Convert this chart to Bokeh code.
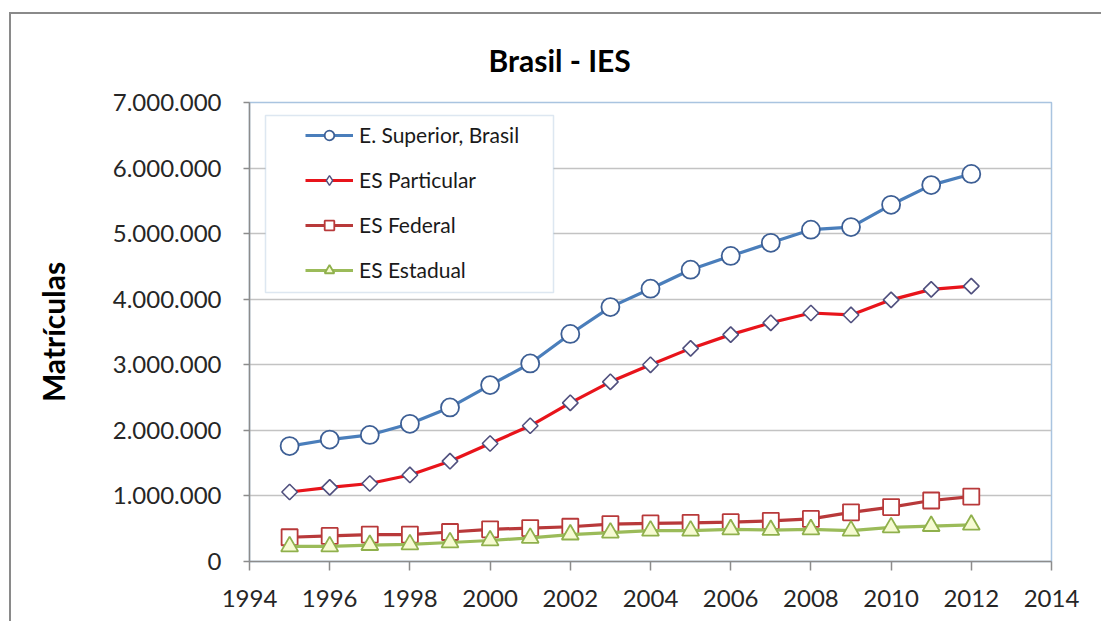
from bokeh.plotting import figure
from bokeh.models import Legend, LegendItem, BoxAnnotation, FixedTicker
from bokeh.embed import file_html
from bokeh.resources import INLINE
import math

# ---- data ----
years = list(range(1995, 2013))
superior = [1760000, 1860000, 1930000, 2100000, 2350000, 2690000, 3020000, 3470000, 3880000,
            4160000, 4450000, 4660000, 4860000, 5060000, 5100000, 5440000, 5740000, 5910000]
particular = [1060000, 1130000, 1190000, 1320000, 1530000, 1800000, 2070000, 2420000, 2740000,
              3000000, 3250000, 3460000, 3640000, 3790000, 3760000, 3990000, 4150000, 4200000]
federal = [370000, 390000, 410000, 410000, 450000, 490000, 510000, 530000, 570000,
           580000, 590000, 600000, 620000, 650000, 750000, 830000, 930000, 990000]
estadual = [230000, 230000, 250000, 260000, 290000, 320000, 360000, 410000, 440000,
            470000, 470000, 490000, 480000, 490000, 470000, 520000, 540000, 560000]
series_names = ["E. Superior, Brasil", "ES Particular", "ES Federal", "ES Estadual"]
x_ticks = [1994, 1996, 1998, 2000, 2002, 2004, 2006, 2008, 2010, 2012, 2014]
y_ticks = [0, 1000000, 2000000, 3000000, 4000000, 5000000, 6000000, 7000000]
y_tick_labels = ["0", "1.000.000", "2.000.000", "3.000.000", "4.000.000",
                 "5.000.000", "6.000.000", "7.000.000"]
title_text = "Brasil - IES"
y_label = "Matrículas"

FONT = "Lato"

p = figure(width=1092, height=609, x_range=(1994, 2014), y_range=(0, 7000000),
           output_backend="svg", toolbar_location=None,
           min_border_left=238, min_border_right=52, min_border_top=87, min_border_bottom=62)
p.styles = {"border-left": "2px solid #8a8a8a", "border-top": "2px solid #8a8a8a",
            "margin-left": "9px", "margin-top": "12px"}
p.background_fill_color = "white"
p.border_fill_color = "white"
p.outline_line_color = "#a9c4e0"
p.outline_line_width = 1.5

# title
p.title.text = title_text
p.title.align = "left"
p.title.offset = 239
p.title.standoff = 50
p.title.text_font = FONT
p.title.text_font_size = "30px"
p.title.text_font_style = "bold"
p.title.text_color = "#000000"

# axes
p.xaxis.ticker = FixedTicker(ticks=x_ticks)
p.yaxis.ticker = FixedTicker(ticks=y_ticks)
p.yaxis.major_label_overrides = {t: l for t, l in zip(y_ticks, y_tick_labels)}
for ax in (p.xaxis, p.yaxis):
    ax.axis_line_color = "#8c8c8c"
    ax.axis_line_width = 1.5
    ax.major_tick_line_color = "#8c8c8c"
    ax.major_tick_line_width = 1.5
    ax.major_tick_in = 0
    ax.minor_tick_line_color = None
    ax.major_label_text_font = FONT
    ax.major_label_text_font_size = "24px"
    ax.major_label_text_color = "#262626"
p.xaxis.major_tick_out = 9
p.yaxis.major_tick_out = 6
p.xaxis.major_label_standoff = 19
p.yaxis.major_label_standoff = 22
p.yaxis.axis_label = y_label
p.yaxis.axis_label_text_font = FONT
p.yaxis.axis_label_text_font_size = "30px"
p.yaxis.axis_label_text_font_style = "bold"
p.yaxis.axis_label_text_color = "#000000"
p.yaxis.axis_label_standoff = 39

p.xgrid.visible = False
p.ygrid.grid_line_color = "#c3c3c3"
p.ygrid.grid_line_width = 1.5

# series
l1 = p.line(years, superior, line_color="#4a7ebb", line_width=3.2)
s1 = p.scatter(years, superior, marker="circle", size=18, fill_color="white",
               line_color="#3d5f95", line_width=1.8)
# diamond glyph used for the legend swatch (hidden beneath the rotated squares)
s2_leg = p.scatter(years, particular, marker="diamond", size=14, fill_color="white",
                   line_color="#50507e", line_width=1.4)
l2 = p.line(years, particular, line_color="#e8141b", line_width=3.2)
s2 = p.scatter(years, particular, marker="square", angle=math.pi / 4, size=11,
               fill_color="white", line_color="#50507e", line_width=1.6)
l3 = p.line(years, federal, line_color="#b8393a", line_width=3.2)
s3 = p.scatter(years, federal, marker="square", size=16, fill_color="white",
               line_color="#b8393a", line_width=1.8)
l4 = p.line(years, estadual, line_color="#9bbb59", line_width=3.2)
s4 = p.scatter(years, estadual, marker="triangle", size=17, fill_color="#f6fbd2",
               line_color="#8fb04c", line_width=1.8)

# legend frame
lbox = BoxAnnotation(left=16, right=304, top=446, bottom=269,
                     left_units="screen", right_units="screen",
                     top_units="screen", bottom_units="screen",
                     fill_color="white", fill_alpha=1, line_color="#8fb0d0", line_width=1.5)
p.add_layout(lbox)

legend = Legend(items=[LegendItem(label=series_names[0], renderers=[l1, s1]),
                       LegendItem(label=series_names[1], renderers=[l2, s2_leg]),
                       LegendItem(label=series_names[2], renderers=[l3, s3]),
                       LegendItem(label=series_names[3], renderers=[l4, s4])],
                location=(56, 279), padding=0, margin=0, border_line_color=None,
                background_fill_alpha=0, label_text_font=FONT, label_text_font_size="21px",
                label_text_color="#1a1a1a", glyph_width=48, glyph_height=24,
                label_height=24, spacing=20, label_standoff=6)
p.add_layout(legend)

open("out.html", "w").write(file_html(p, INLINE))
